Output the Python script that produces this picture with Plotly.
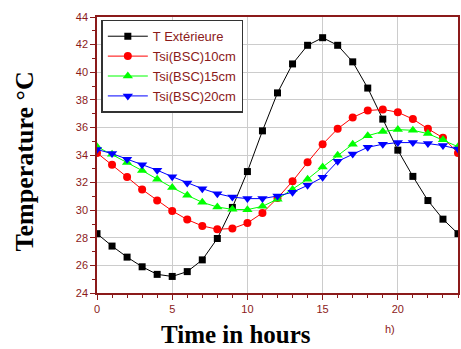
import plotly.graph_objects as go

hours = list(range(25))
t_ext = [28.3, 27.4, 26.6, 25.9, 25.35, 25.2, 25.55, 26.4, 27.95, 30.2, 32.8, 35.75, 38.5, 40.6, 41.95,
         42.5, 41.95, 40.75, 38.85, 36.6, 34.35, 32.45, 30.7, 29.35, 28.3]
tsi10 = [34.15, 33.3, 32.4, 31.5, 30.7, 29.95, 29.32, 28.86, 28.62, 28.67, 29.07, 29.8, 30.88, 32.1, 33.47,
         34.78, 35.9, 36.72, 37.22, 37.3, 37.1, 36.6, 35.9, 35.25, 34.15]
tsi15 = [34.6, 34.05, 33.45, 32.87, 32.24, 31.64, 31.08, 30.57, 30.23, 30.06, 30.04, 30.28, 30.8, 31.5, 32.25,
         33.13, 33.98, 34.78, 35.4, 35.7, 35.84, 35.79, 35.55, 35.1, 34.6]
tsi20 = [34.4, 34.1, 33.7, 33.3, 32.9, 32.43, 31.97, 31.56, 31.2, 30.95, 30.84, 30.84, 31.03, 31.3, 31.8,
         32.38, 33.54, 34.07, 34.56, 34.78, 34.9, 34.9, 34.83, 34.68, 34.43]

names = ["T Extérieure", "Tsi(BSC)10cm", "Tsi(BSC)15cm", "Tsi(BSC)20cm"]
colors = ["#000000", "#ff0000", "#00ff00", "#0000ff"]
symbols = ["square", "circle", "triangle-up", "triangle-down"]
sizes = [7, 8, 9, 9]
series = [t_ext, tsi10, tsi15, tsi20]

x_title = "Time in hours"
y_title = "Temperature °C"
stray_label = "h)"

dark = "#8b1a1a"
L, R, T, B = 97, 460, 17, 293
W, H = 461, 349
pw, ph = R - L, B - T

fig = go.Figure()
for n, c, s, sz, ys in zip(names, colors, symbols, sizes, series):
    fig.add_trace(go.Scatter(x=hours, y=ys, name=n, mode="lines+markers",
                             line=dict(color=c, width=1),
                             marker=dict(symbol=s, size=sz, color=c, line=dict(width=0)),
                             cliponaxis=True))

axis_common = dict(showgrid=True, gridcolor="#cccccc", gridwidth=1, zeroline=False,
                   showline=True, linecolor=dark, linewidth=1.5, mirror=True,
                   ticks="outside", tickcolor=dark, ticklen=5, tickwidth=1,
                   tickfont=dict(family="Arial", size=11, color=dark))
fig.update_xaxes(range=[0, 24], dtick=5, tick0=0,
                 minor=dict(dtick=1, ticks="outside", ticklen=3, tickcolor=dark, showgrid=False),
                 **axis_common)
fig.update_yaxes(range=[24, 44], dtick=2, tick0=24,
                 minor=dict(dtick=1, ticks="outside", ticklen=3, tickcolor=dark, showgrid=False),
                 **axis_common)

def px_to_paper(px, py):
    return (px - L) / pw, (B - py) / ph

xt = px_to_paper(237, 334)
fig.add_annotation(text="<b>" + x_title + "</b>", x=xt[0], y=xt[1], xref="paper", yref="paper",
                   showarrow=False, xanchor="center", yanchor="middle",
                   font=dict(family="Liberation Serif", size=25, color="#000000"))
yt = px_to_paper(24, 161)
fig.add_annotation(text="<b>" + y_title + "</b>", x=yt[0], y=yt[1], xref="paper", yref="paper",
                   showarrow=False, xanchor="center", yanchor="middle", textangle=-90,
                   font=dict(family="Liberation Serif", size=26, color="#000000"))
ht = px_to_paper(392, 329)
fig.add_annotation(text=stray_label, x=ht[0], y=ht[1], xref="paper", yref="paper",
                   showarrow=False, xanchor="center", yanchor="middle",
                   font=dict(family="Arial", size=11, color=dark))

fig.update_layout(
    width=W, height=H,
    margin=dict(l=L, r=W - R, t=T, b=H - B),
    paper_bgcolor="white", plot_bgcolor="white",
    showlegend=True,
    legend=dict(x=0.012, y=0.99, xanchor="left", yanchor="top",
                bgcolor="white", bordercolor="#333333", borderwidth=1.5,
                font=dict(family="Arial", size=13, color=dark),
                tracegroupgap=0, itemwidth=40),
)
fig.write_html("out.html", config={"displayModeBar": False},
               post_script="document.body.style.margin='0';")
